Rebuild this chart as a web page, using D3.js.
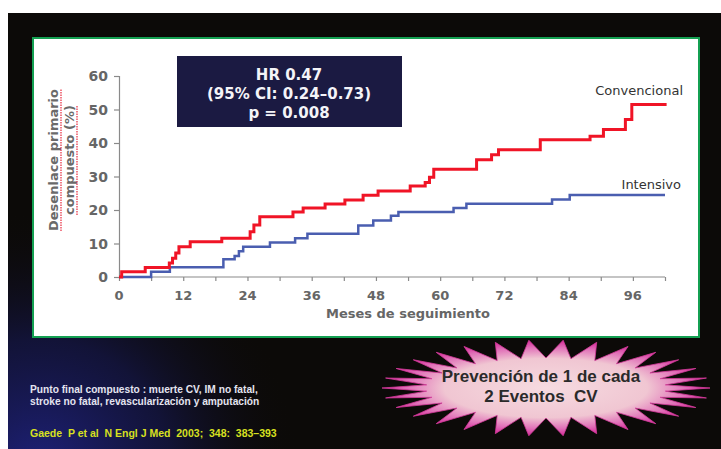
<!DOCTYPE html>
<html>
<head>
<meta charset="utf-8">
<script src="https://cdn.jsdelivr.net/npm/d3@7"></script>
<style>
  html, body { margin: 0; padding: 0; background: #fff; }
  svg { display: block; }
</style>
</head>
<body>
<div id="chart"></div>
<script>
// step points: [month, cumulative %]
var convencional = [[0,0],[0.5,1.6],[4.9,2.8],[9.4,4.2],[10,5.6],[10.6,7.2],[11.2,9],[13.3,10.5],[19.2,11.6],
  [24.5,13.5],[25.2,15.5],[26.3,18],[32.5,19.4],[34.4,20.6],[38.5,21.8],[42.2,23],[45.6,24.4],[48.4,25.7],
  [54.4,27.2],[57.2,28.2],[58,29.8],[58.8,32.2],[66.8,35],[69.6,36.5],[70.9,38],[78.7,41],[88,42],
  [90.5,44],[94.6,47],[95.8,51.5],[102.3,51.5]];
var intensivo = [[0,0],[6,1.6],[9.5,2.9],[19.5,5.3],[21.6,6.3],[22.4,7.7],[23.2,9],[28.2,10.3],[32.9,11.6],
  [35.2,12.9],[44.7,15.4],[47.5,16.9],[50.8,18.3],[52.2,19.4],[62.5,20.6],[64.9,21.9],[80.9,23.1],
  [84.2,24.5],[102,24.5]];
var xTicks = [0,12,24,36,48,60,72,84,96];
var xMinorTicks = d3.range(0, 103, 6);
var yTicks = [0,10,20,30,40,50,60];
var hrLines = ["HR 0.47", "(95% CI: 0.24\u20130.73)", "p = 0.008"];
var footLines = ["Punto final compuesto : muerte CV, IM no fatal,", "stroke no fatal, revascularización y amputación"];
var citation = "Gaede  P et al  N Engl J Med  2003;  348:  383\u2013393";
var burstLines = ["Prevención de 1 de cada", "2 Eventos  CV"];

var W = 721, H = 449;
var font = "'DejaVu Sans', sans-serif";

var svg = d3.select("#chart").append("svg")
  .attr("width", W).attr("height", H);

var defs = svg.append("defs");
var glow = defs.append("radialGradient").attr("id", "glow")
  .attr("gradientUnits", "userSpaceOnUse")
  .attr("cx", 40).attr("cy", 470).attr("r", 260);
glow.append("stop").attr("offset", "0%").attr("stop-color", "#1f2280").attr("stop-opacity", 0.95);
glow.append("stop").attr("offset", "50%").attr("stop-color", "#15174c").attr("stop-opacity", 0.7);
glow.append("stop").attr("offset", "100%").attr("stop-color", "#0c0a08").attr("stop-opacity", 0);

var pink = defs.append("radialGradient").attr("id", "pink")
  .attr("cx", 0.5).attr("cy", 0.5).attr("r", 0.5);
pink.append("stop").attr("offset", "0%").attr("stop-color", "#f6dbe0");
pink.append("stop").attr("offset", "62%").attr("stop-color", "#f0c6d2");
pink.append("stop").attr("offset", "85%").attr("stop-color", "#e070b8");
pink.append("stop").attr("offset", "100%").attr("stop-color", "#d62a9a");

// background
svg.append("rect").attr("x", 8).attr("y", 13).attr("width", W - 8).attr("height", H - 13)
  .attr("fill", "#0c0a08");
svg.append("rect").attr("x", 8).attr("y", 13).attr("width", W - 8).attr("height", H - 13)
  .attr("fill", "url(#glow)");

// white panel
svg.append("rect").attr("x", 33).attr("y", 38).attr("width", 666).attr("height", 299)
  .attr("fill", "#fff").attr("stroke", "#14a052").attr("stroke-width", 2);

var x = d3.scaleLinear().domain([0, 102]).range([119, 665]);
var y = d3.scaleLinear().domain([0, 60]).range([277, 76]);

// axes
var xAxis = svg.append("g").attr("transform", "translate(0," + y(0) + ")")
  .call(d3.axisBottom(x).tickValues(xMinorTicks).tickSize(4).tickFormat(""));
xAxis.select(".domain").attr("d", "M" + x(0) + ",0H" + x(102));
xAxis.selectAll("path,line").attr("stroke", "#8a8a8a").attr("stroke-width", 1.2);

svg.append("g").selectAll("text").data(xTicks).enter().append("text")
  .attr("x", function(d) { return x(d); }).attr("y", y(0) + 23)
  .attr("text-anchor", "middle")
  .style("font-family", font).style("font-size", "13px").style("font-weight", "bold")
  .attr("fill", "#666").text(function(d) { return d; });

var yAxis = svg.append("g").attr("transform", "translate(" + x(0) + ",0)")
  .call(d3.axisLeft(y).tickValues(yTicks).tickSize(5).tickFormat(""));
yAxis.selectAll("path,line").attr("stroke", "#8a8a8a").attr("stroke-width", 1.2);

svg.append("g").selectAll("text").data(yTicks).enter().append("text")
  .attr("x", 108).attr("y", function(d) { return y(d) + 5; })
  .attr("text-anchor", "end")
  .style("font-family", font).style("font-size", "14px").style("font-weight", "bold")
  .attr("fill", "#666").text(function(d) { return d; });

svg.append("text").attr("x", 408).attr("y", 318).attr("text-anchor", "middle")
  .style("font-family", font).style("font-size", "13px").style("font-weight", "bold")
  .attr("fill", "#666").text("Meses de seguimiento");

// rotated y label with spell-check squiggle underline
var yl = svg.append("g").attr("transform", "translate(0,160) rotate(-90)");
["Desenlace primario", "compuesto (%)"].forEach(function(t, i) {
  var tx = yl.append("text").attr("x", 0).attr("y", 58 + i * 16).attr("text-anchor", "middle")
    .style("font-family", font).style("font-size", "13px").style("font-weight", "bold")
    .attr("fill", "#6a6a6a").text(t);
  var w = tx.node().getComputedTextLength();
  yl.append("line").attr("x1", -w / 2).attr("x2", w / 2)
    .attr("y1", 61 + i * 16).attr("y2", 61 + i * 16)
    .attr("stroke", "#e8283c").attr("stroke-width", 1.2).attr("stroke-dasharray", "1.5,1");
});

// KM curves
var line = d3.line().x(function(d) { return x(d[0]); }).y(function(d) { return y(d[1]); })
  .curve(d3.curveStepAfter);
svg.append("path").datum(intensivo).attr("d", line)
  .attr("fill", "none").attr("stroke", "#4a5eb0").attr("stroke-width", 2.5);
svg.append("path").datum(convencional).attr("d", line)
  .attr("fill", "none").attr("stroke", "#f01426").attr("stroke-width", 3);

svg.append("text").attr("x", 683).attr("y", 95).attr("text-anchor", "end")
  .style("font-family", font).style("font-size", "13px")
  .attr("fill", "#333").text("Convencional");
svg.append("text").attr("x", 681).attr("y", 189).attr("text-anchor", "end")
  .style("font-family", font).style("font-size", "13px")
  .attr("fill", "#333").text("Intensivo");

// HR box
svg.append("rect").attr("x", 177).attr("y", 56).attr("width", 225).attr("height", 71)
  .attr("fill", "#1b1a42");
svg.append("g").selectAll("text").data(hrLines).enter().append("text")
  .attr("x", 289).attr("y", function(d, i) { return 80 + i * 19; })
  .attr("text-anchor", "middle")
  .style("font-family", font).style("font-size", "15px").style("font-weight", "bold")
  .attr("fill", "#f4f4f8").text(function(d) { return d; });

// footnotes
svg.append("g").selectAll("text").data(footLines).enter().append("text")
  .attr("x", 30).attr("y", function(d, i) { return 393 + i * 12; })
  .style("font-family", "'Liberation Sans', Arial, sans-serif").style("font-size", "10.2px")
  .style("font-weight", "bold").attr("fill", "#e4e4f0").text(function(d) { return d; });
svg.append("text").attr("x", 30).attr("y", 437)
  .style("font-family", "'Liberation Sans', Arial, sans-serif").style("font-size", "10.5px")
  .style("white-space", "pre")
  .style("font-weight", "bold").attr("fill", "#d8e020").text(citation);

// starburst
var cx = 546, cy = 388, n = 30;
var pts = d3.range(n * 2).map(function(i) {
  var a = i / (n * 2) * 2 * Math.PI;
  var outer = i % 2 === 0;
  var rx = outer ? 164 : 120, ry = outer ? 48 : 30;
  return [cx + rx * Math.cos(a), cy + ry * Math.sin(a)];
});
svg.append("path").attr("d", "M" + pts.join("L") + "Z")
  .attr("fill", "url(#pink)").attr("stroke", "#d43a9a").attr("stroke-width", 0.8);
svg.append("g").selectAll("text").data(burstLines).enter().append("text")
  .attr("x", 541).attr("y", function(d, i) { return 382 + i * 20; })
  .attr("text-anchor", "middle").style("white-space", "pre")
  .style("font-family", "'Liberation Sans', Arial, sans-serif").style("font-size", "17px")
  .style("font-weight", "bold").attr("fill", "#2a2a2a").text(function(d) { return d; });
</script>
</body>
</html>
